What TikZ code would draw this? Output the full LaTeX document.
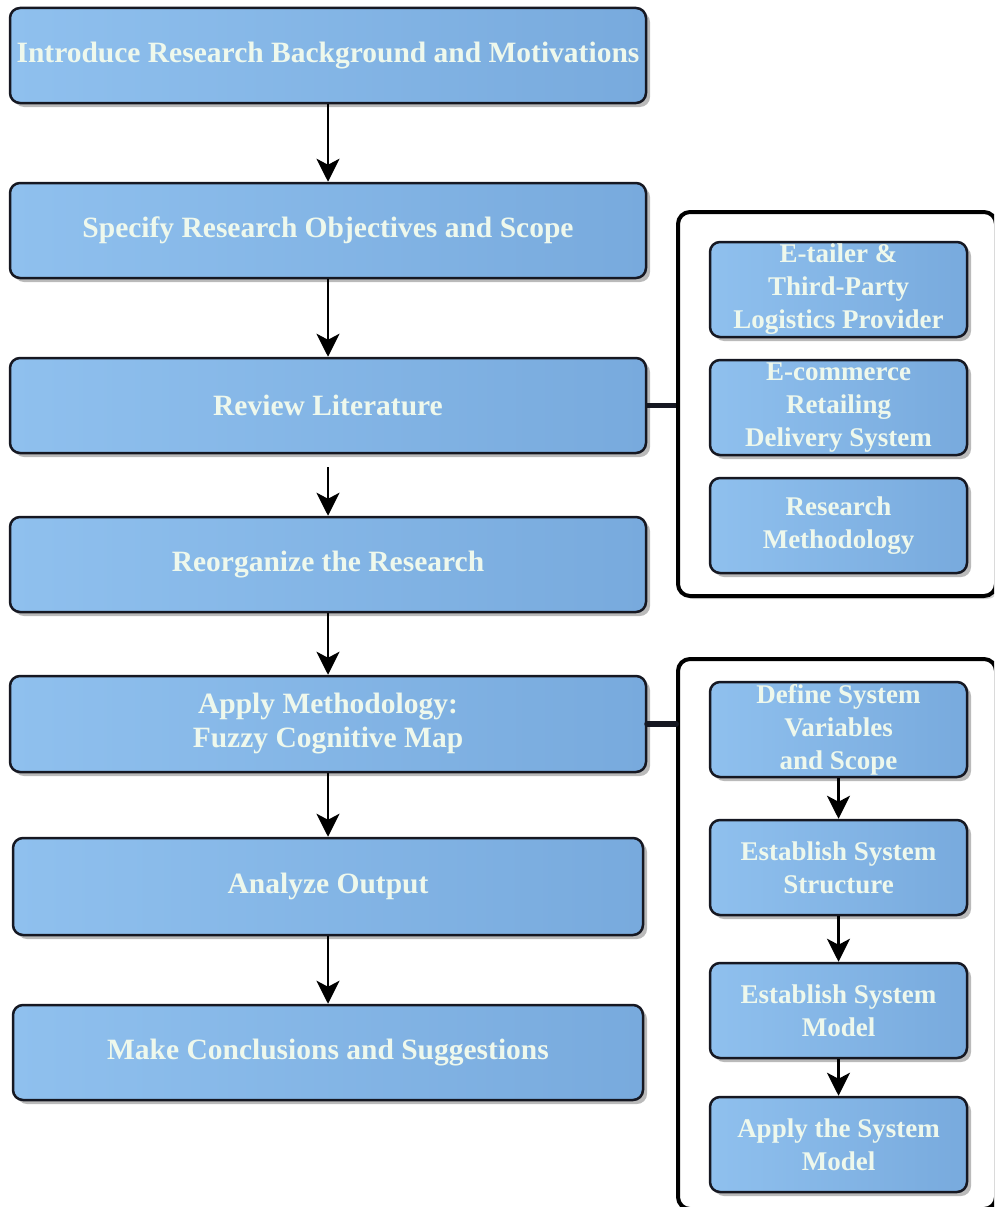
\documentclass[tikz,border=0pt]{standalone}
\usepackage{fontspec}
\setmainfont{Liberation Serif}
\usetikzlibrary{arrows.meta,shadows}

\definecolor{boxlight}{RGB}{143,192,238}
\definecolor{boxdark}{RGB}{120,170,221}
\definecolor{boxline}{RGB}{22,24,34}
\definecolor{boxtext}{RGB}{238,248,236}

\tikzset{
  stepbox/.style={
    draw=boxline, line width=2.5pt, rounded corners=10pt,
    left color=boxlight, right color=boxdark,
    text=boxtext, align=center, inner sep=0pt,
    drop shadow={shadow xshift=4pt, shadow yshift=-4pt, opacity=0.45, fill=black!60}
  },
  mainbox/.style={stepbox, minimum width=636pt, minimum height=95pt,
    font=\fontsize{29.5}{34}\selectfont\bfseries},
  subbox/.style={stepbox, minimum width=257pt, minimum height=95pt,
    font=\fontsize{27}{33}\selectfont\bfseries},
  groupframe/.style={draw=black, line width=4pt, rounded corners=12pt, fill=white,
    drop shadow={shadow xshift=3pt, shadow yshift=-3pt, opacity=0.35, fill=black!50}},
  flow/.style={line width=2.5pt, -{Stealth[length=23pt,width=23pt,inset=6pt]}},
  link/.style={line width=4.5pt, draw=boxline}
}

\begin{document}
\begin{tikzpicture}[x=1pt, y=-1pt]
\useasboundingbox (0,0) rectangle (994,1207);
\clip (0,0) rectangle (994,1207);

% group frames on the right
\node[groupframe, minimum width=318pt, minimum height=384pt] (f1) at (837,404) {};
\node[groupframe, minimum width=318pt, minimum height=550pt] (f2) at (837,934) {};

% main process column
\node[mainbox] (r1) at (328,55.5) {Introduce Research Background and Motivations};
\node[mainbox] (r2) at (328,230.5) {Specify Research Objectives and Scope};
\node[mainbox] (r3) at (328,405.5) {Review Literature};
\node[mainbox] (r4) at (328,564.5) {Reorganize the Research};
\node[mainbox, minimum height=96pt] (r5) at (328,724) {Apply Methodology:\\Fuzzy Cognitive Map};
\node[mainbox, minimum width=630pt, minimum height=97pt] (r6) at (328,886.5) {Analyze Output};
\node[mainbox, minimum width=630pt] (r7) at (328,1052.5) {Make Conclusions and Suggestions};

% literature topics
\node[subbox] (b1) at (838.5,289.5) {E-tailer \&\\Third-Party\\Logistics Provider};
\node[subbox] (b2) at (838.5,407.5) {E-commerce\\Retailing\\Delivery System};
\node[subbox] (b3) at (838.5,525.5) {Research\\Methodology};

% methodology steps
\node[subbox] (d1) at (838.5,729.5) {Define System\\Variables\\and Scope};
\node[subbox] (d2) at (838.5,867.5) {Establish System\\Structure};
\node[subbox] (d3) at (838.5,1010.5) {Establish System\\Model};
\node[subbox] (d4) at (838.5,1144.5) {Apply the System\\Model};

% main flow
\draw[flow] (r1) -- (r2);
\draw[flow] (r2) -- (r3);
\draw[flow, shorten <=13pt] (r3) -- (r4);
\draw[flow] (r4) -- (r5);
\draw[flow] (r5) -- (r6);
\draw[flow] (r6) -- (r7);

% methodology flow
\draw[flow] (d1) -- (d2);
\draw[flow] (d2) -- (d3);
\draw[flow] (d3) -- (d4);

% links to the group frames
\draw[link] (r3.east) -- (r3.east -| f1.west);
\draw[link, line width=6pt, line cap=round] (r5.east) -- (r5.east -| f2.west);
\end{tikzpicture}
\end{document}
